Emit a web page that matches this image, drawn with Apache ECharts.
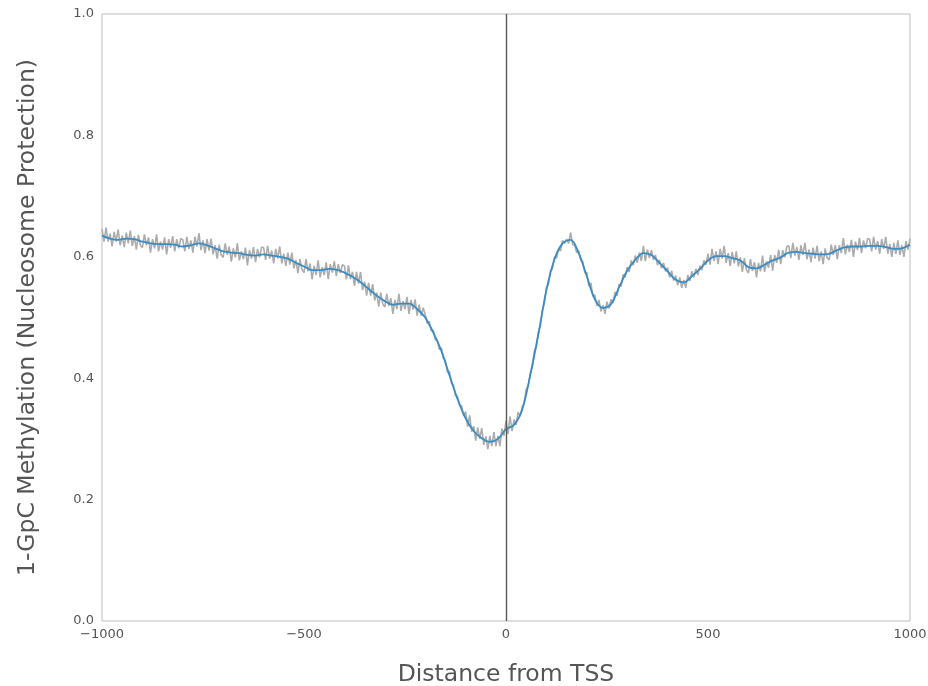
<!DOCTYPE html>
<html>
<head>
<meta charset="utf-8">
<script src="https://cdn.jsdelivr.net/npm/echarts@6/dist/echarts.min.js"></script>
<style>
  html, body { margin: 0; padding: 0; background: #fff; }
  #chart { width: 928px; height: 686px; }
</style>
</head>
<body>
<div id="chart"></div>
<script>
// Axis ranges and tick labels
const xTicks = [-1000, -500, 0, 500, 1000];
const yTicks = [0.0, 0.2, 0.4, 0.6, 0.8, 1.0];

// Smoothed methylation profile, sampled every 20 bp from -1000 to 1000
const smoothStart = -1000;
const smoothStep = 20;
const smoothValues = [
  0.635, 0.630, 0.628, 0.630, 0.629, 0.625, 0.622, 0.621, 0.621, 0.620,
  0.617, 0.619, 0.622, 0.619, 0.614, 0.609, 0.607, 0.606, 0.603, 0.602,
  0.604, 0.602, 0.600, 0.597, 0.590, 0.584, 0.578, 0.578, 0.580, 0.579,
  0.574, 0.567, 0.558, 0.547, 0.536, 0.527, 0.521, 0.523, 0.523, 0.514,
  0.500, 0.475, 0.445, 0.405, 0.366, 0.334, 0.313, 0.301, 0.295, 0.300,
  0.316, 0.323, 0.348, 0.405, 0.472, 0.545, 0.596, 0.622, 0.628, 0.606,
  0.568, 0.530, 0.516, 0.522, 0.550, 0.577, 0.595, 0.606, 0.603, 0.590,
  0.576, 0.562, 0.558, 0.568, 0.580, 0.594, 0.601, 0.601, 0.598, 0.594,
  0.583, 0.581, 0.587, 0.594, 0.599, 0.607, 0.608, 0.606, 0.605, 0.604,
  0.605, 0.611, 0.616, 0.617, 0.617, 0.618, 0.618, 0.616, 0.613, 0.614,
  0.620
];

// Raw per-position methylation, sampled every 5 bp from -1000 to 1000
const rawStart = -1000;
const rawStep = 5;
const rawValues = [
  0.646, 0.625, 0.648, 0.625, 0.638, 0.617, 0.641, 0.625, 0.645, 0.619, 0.635, 0.616, 0.640, 0.622, 0.643, 0.618, 0.634, 0.612, 0.636, 0.619,
  0.615, 0.637, 0.619, 0.632, 0.607, 0.629, 0.614, 0.637, 0.609, 0.625, 0.612, 0.632, 0.604, 0.629, 0.615, 0.634, 0.609, 0.629, 0.614, 0.630,
  0.628, 0.609, 0.633, 0.613, 0.627, 0.607, 0.633, 0.617, 0.639, 0.611, 0.627, 0.606, 0.629, 0.610, 0.630, 0.604, 0.619, 0.597, 0.620, 0.603,
  0.599, 0.622, 0.603, 0.617, 0.592, 0.614, 0.599, 0.622, 0.594, 0.609, 0.596, 0.615, 0.586, 0.611, 0.597, 0.616, 0.591, 0.613, 0.599, 0.616,
  0.615, 0.595, 0.618, 0.597, 0.610, 0.589, 0.613, 0.597, 0.617, 0.589, 0.605, 0.585, 0.607, 0.587, 0.607, 0.581, 0.595, 0.573, 0.596, 0.579,
  0.574, 0.596, 0.576, 0.589, 0.563, 0.585, 0.570, 0.594, 0.566, 0.583, 0.570, 0.591, 0.563, 0.588, 0.574, 0.593, 0.568, 0.588, 0.573, 0.587,
  0.585, 0.563, 0.586, 0.563, 0.575, 0.552, 0.575, 0.556, 0.575, 0.545, 0.559, 0.536, 0.557, 0.536, 0.555, 0.528, 0.541, 0.518, 0.541, 0.522,
  0.517, 0.539, 0.519, 0.532, 0.506, 0.529, 0.514, 0.539, 0.511, 0.527, 0.514, 0.534, 0.506, 0.529, 0.513, 0.530, 0.503, 0.521, 0.503, 0.516,
  0.505, 0.490, 0.494, 0.478, 0.479, 0.463, 0.463, 0.447, 0.450, 0.433, 0.429, 0.410, 0.411, 0.392, 0.388, 0.371, 0.370, 0.355, 0.355, 0.338,
  0.345, 0.320, 0.339, 0.312, 0.321, 0.297, 0.319, 0.300, 0.318, 0.290, 0.304, 0.283, 0.305, 0.288, 0.311, 0.288, 0.305, 0.288, 0.317, 0.305,
  0.330, 0.308, 0.337, 0.313, 0.332, 0.323, 0.344, 0.337, 0.352, 0.359, 0.382, 0.387, 0.408, 0.418, 0.444, 0.452, 0.476, 0.485, 0.512, 0.523,
  0.550, 0.554, 0.577, 0.580, 0.600, 0.598, 0.612, 0.610, 0.627, 0.622, 0.629, 0.622, 0.640, 0.620, 0.619, 0.607, 0.610, 0.594, 0.592, 0.574,
  0.574, 0.552, 0.557, 0.535, 0.537, 0.519, 0.529, 0.510, 0.520, 0.506, 0.526, 0.515, 0.530, 0.524, 0.542, 0.536, 0.555, 0.551, 0.571, 0.566,
  0.583, 0.575, 0.594, 0.586, 0.602, 0.590, 0.607, 0.593, 0.618, 0.593, 0.612, 0.598, 0.611, 0.595, 0.603, 0.586, 0.595, 0.581, 0.590, 0.576,
  0.582, 0.566, 0.577, 0.561, 0.569, 0.553, 0.566, 0.549, 0.562, 0.549, 0.570, 0.560, 0.576, 0.566, 0.580, 0.570, 0.585, 0.578, 0.594, 0.587,
  0.605, 0.587, 0.613, 0.593, 0.609, 0.588, 0.613, 0.597, 0.618, 0.590, 0.606, 0.585, 0.608, 0.589, 0.609, 0.584, 0.599, 0.575, 0.598, 0.579,
  0.573, 0.596, 0.577, 0.591, 0.566, 0.590, 0.576, 0.602, 0.575, 0.593, 0.582, 0.603, 0.577, 0.603, 0.590, 0.612, 0.588, 0.611, 0.599, 0.617,
  0.618, 0.598, 0.623, 0.602, 0.616, 0.595, 0.619, 0.603, 0.623, 0.596, 0.612, 0.591, 0.615, 0.597, 0.618, 0.593, 0.609, 0.588, 0.614, 0.598,
  0.595, 0.620, 0.603, 0.619, 0.596, 0.619, 0.606, 0.631, 0.604, 0.620, 0.608, 0.628, 0.600, 0.625, 0.611, 0.631, 0.606, 0.627, 0.614, 0.630,
  0.629, 0.609, 0.633, 0.612, 0.626, 0.605, 0.629, 0.613, 0.633, 0.605, 0.621, 0.600, 0.623, 0.605, 0.627, 0.603, 0.619, 0.600, 0.626, 0.612, 0.630
];

// TSS marker position
const tssPosition = 0;

const toPairs = (start, step, values) => values.map((v, i) => [start + i * step, v]);

const FONT = '"DejaVu Sans", "Liberation Sans", sans-serif';
const TEXT_COLOR = '#555555';

const chart = echarts.init(document.getElementById('chart'), null, { renderer: 'canvas' });

chart.setOption({
  animation: false,
  backgroundColor: '#ffffff',
  grid: {
    left: 102, right: 18, top: 14, bottom: 65,
    outerBoundsMode: 'none',
    containLabel: false,
    show: true, borderColor: '#bdbdbd', borderWidth: 1, backgroundColor: '#ffffff'
  },
  xAxis: {
    type: 'value',
    min: xTicks[0], max: xTicks[xTicks.length - 1], interval: 500,
    name: 'Distance from TSS',
    nameLocation: 'middle', nameGap: 42,
    nameTextStyle: { fontFamily: FONT, fontSize: 23.5, color: TEXT_COLOR },
    axisLine: { show: false }, axisTick: { show: false }, splitLine: { show: false },
    axisLabel: {
      fontFamily: FONT, fontSize: 13, color: TEXT_COLOR, margin: 7,
      formatter: v => (v < 0 ? '\u2212' + Math.abs(v) : String(v))
    }
  },
  yAxis: {
    type: 'value',
    min: yTicks[0], max: yTicks[yTicks.length - 1], interval: 0.2,
    name: '1-GpC Methylation (Nucleosome Protection)',
    nameLocation: 'middle', nameGap: 62,
    nameTextStyle: { fontFamily: FONT, fontSize: 23.5, color: TEXT_COLOR },
    axisLine: { show: false }, axisTick: { show: false }, splitLine: { show: false },
    axisLabel: {
      fontFamily: FONT, fontSize: 13, color: TEXT_COLOR, margin: 8,
      formatter: v => v.toFixed(1)
    }
  },
  series: [
    {
      name: 'raw',
      type: 'line',
      data: toPairs(rawStart, rawStep, rawValues),
      showSymbol: false,
      lineStyle: { color: '#acacac', width: 1.6 },
      z: 2,
      markLine: {
        silent: true,
        symbol: ['none', 'none'],
        label: { show: false },
        lineStyle: { color: '#5a5a5a', width: 1.4, type: 'solid' },
        data: [{ xAxis: tssPosition }]
      }
    },
    {
      name: 'smoothed',
      type: 'line',
      data: toPairs(smoothStart, smoothStep, smoothValues),
      showSymbol: false,
      smooth: 0.35,
      lineStyle: { color: '#3a8cc4', width: 1.8 },
      z: 3
    }
  ]
});
</script>
</body>
</html>
